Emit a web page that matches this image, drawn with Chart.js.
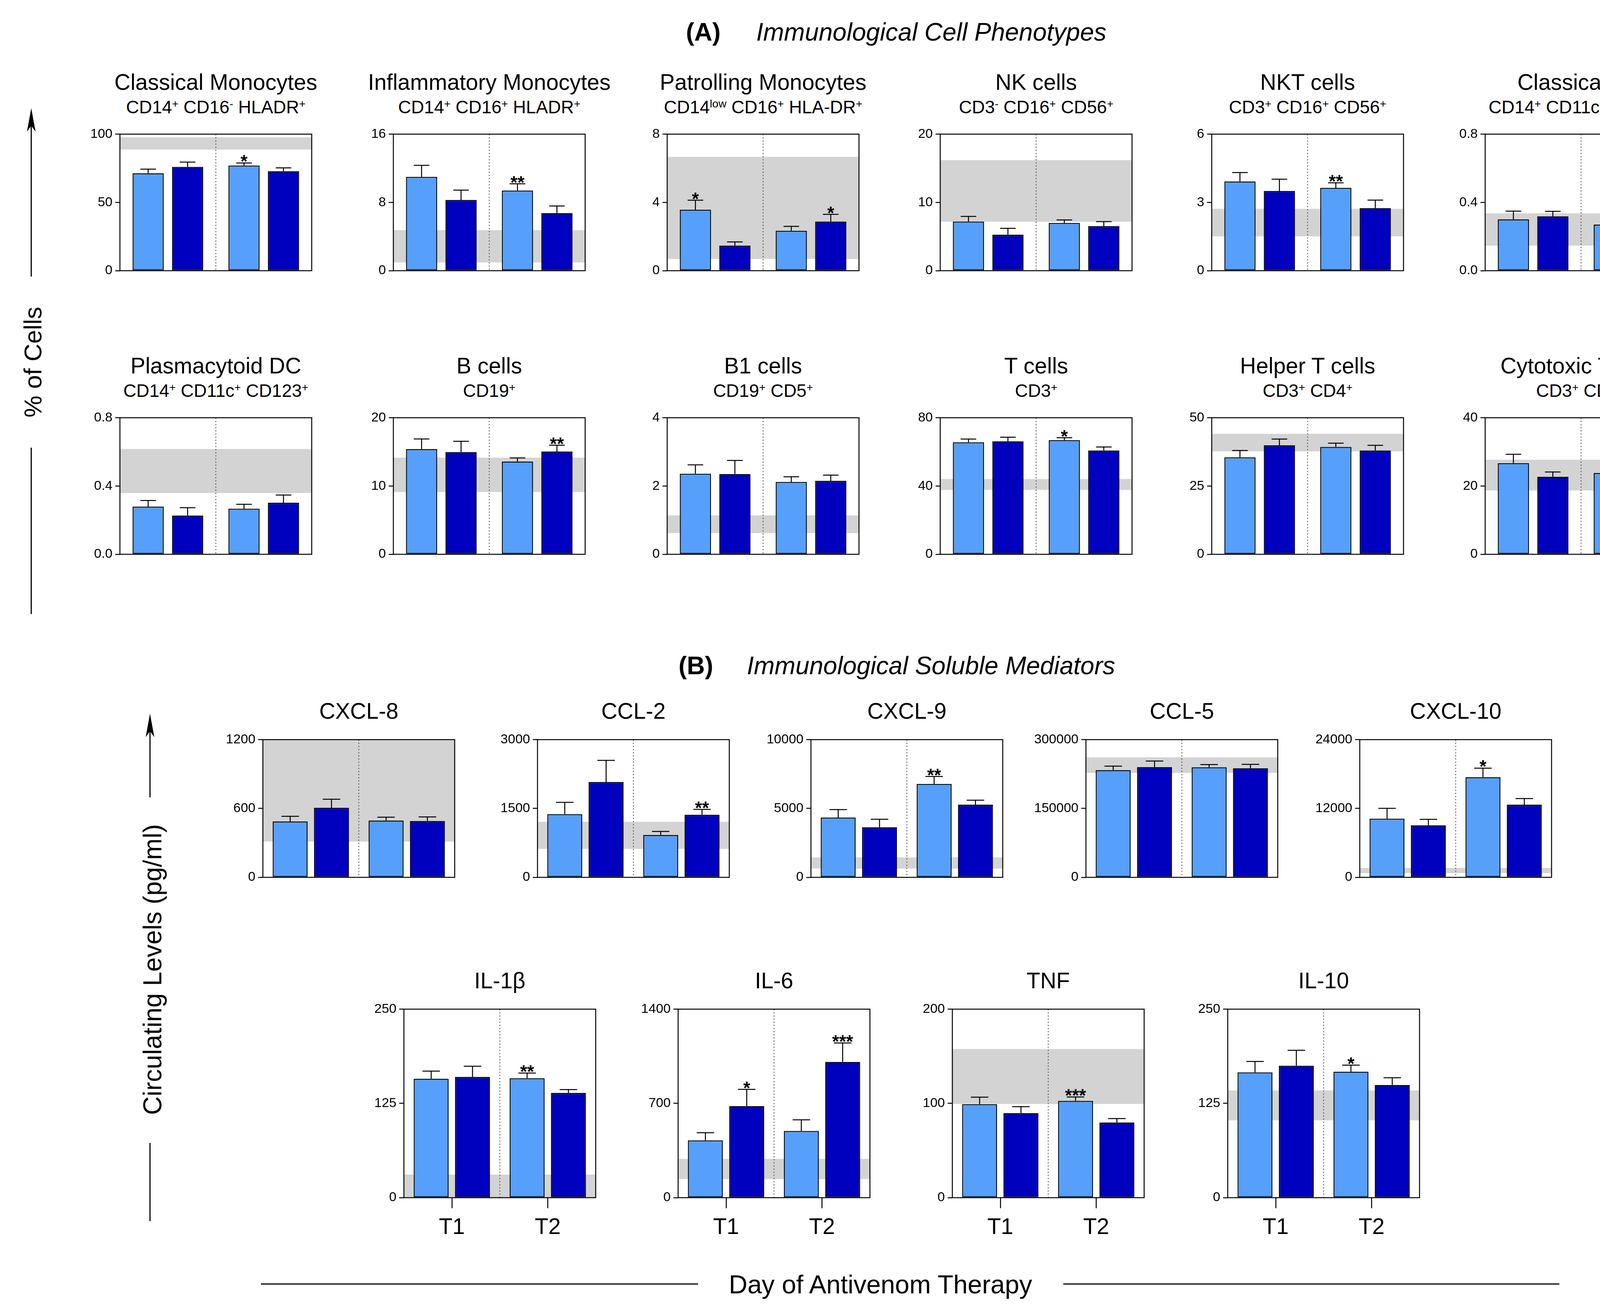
<!DOCTYPE html>
<html><head><meta charset="utf-8">
<script src="https://cdn.jsdelivr.net/npm/chart.js@4.4.1/dist/chart.umd.min.js"></script>
<style>
html,body{margin:0;padding:0;background:#fff;}
body{width:4341px;height:3351px;position:relative;overflow:hidden;font-family:"Liberation Sans",Arial,Helvetica,sans-serif;color:#000;}
.t{position:absolute;white-space:nowrap;line-height:1;}
sup{font-size:0.62em;vertical-align:0.52em;line-height:0;}
canvas{position:absolute;}
svg{position:absolute;left:0;top:0;}
</style></head><body>
<svg width="4341" height="3351" viewBox="0 0 4341 3351">
  <g stroke="#000" stroke-width="3" fill="none">
    <line x1="80" y1="300" x2="80" y2="708"/>
    <line x1="80" y1="1146" x2="80" y2="1572"/>
    <line x1="384" y1="1850" x2="384" y2="2041"/>
    <line x1="384" y1="2926" x2="384" y2="3126"/>
    <line x1="668" y1="3287" x2="1787" y2="3287"/>
    <line x1="2722" y1="3287" x2="3992" y2="3287"/>
  </g>
  <g fill="#000">
    <polygon points="80,277 69,337 80,322 91,337"/>
    <polygon points="384,1827 373,1887 384,1872 395,1887"/>
  </g>
</svg>
<script>
// ---------------- DATA ----------------
const categories = ['T1', 'T2'];
const panelTitles = [
  'Classical Monocytes', 'Inflammatory Monocytes', 'Patrolling Monocytes', 'NK cells', 'NKT cells', 'Classical DC',
  'Plasmacytoid DC', 'B cells', 'B1 cells', 'T cells', 'Helper T cells', 'Cytotoxic T cells',
  'CXCL-8', 'CCL-2', 'CXCL-9', 'CCL-5', 'CXCL-10',
  'IL-1β', 'IL-6', 'TNF', 'IL-10'
];
const panelMarkers = [
  'CD14<sup>+</sup> CD16<sup>-</sup> HLADR<sup>+</sup>',
  'CD14<sup>+</sup> CD16<sup>+</sup> HLADR<sup>+</sup>',
  'CD14<sup>low</sup> CD16<sup>+</sup> HLA-DR<sup>+</sup>',
  'CD3<sup>-</sup> CD16<sup>+</sup> CD56<sup>+</sup>',
  'CD3<sup>+</sup> CD16<sup>+</sup> CD56<sup>+</sup>',
  'CD14<sup>+</sup> CD11c<sup>+</sup> CD123<sup>+</sup>',
  'CD14<sup>+</sup> CD11c<sup>+</sup> CD123<sup>+</sup>',
  'CD19<sup>+</sup>',
  'CD19<sup>+</sup> CD5<sup>+</sup>',
  'CD3<sup>+</sup>',
  'CD3<sup>+</sup> CD4<sup>+</sup>',
  'CD3<sup>+</sup> CD8<sup>+</sup>',
  '', '', '', '', '', '', '', '', ''
];
const yTickLabels = [
  ['0','50','100'], ['0','8','16'], ['0','4','8'], ['0','10','20'], ['0','3','6'], ['0.0','0.4','0.8'],
  ['0.0','0.4','0.8'], ['0','10','20'], ['0','2','4'], ['0','40','80'], ['0','25','50'], ['0','20','40'],
  ['0','600','1200'], ['0','1500','3000'], ['0','5000','10000'], ['0','150000','300000'], ['0','12000','24000'],
  ['0','125','250'], ['0','700','1400'], ['0','100','200'], ['0','125','250']
];
const lightMean = [
  [71.4, 77.0], [11.0, 9.39], [3.57, 2.34], [7.20, 6.99], [3.92, 3.64], [0.301, 0.270],
  [0.279, 0.267], [15.42, 13.58], [2.36, 2.12], [65.6, 66.9], [35.5, 39.3], [26.7, 23.8],
  [487, 495], [1377, 923], [4338, 6778], [233600, 239800], [10220, 17460],
  [157.8, 158.4], [426, 495], [99.2, 102.7], [166.2, 167.1]
];
const lightSEM = [
  [3.0, 1.9], [1.34, 0.79], [0.56, 0.26], [0.75, 0.45], [0.39, 0.22], [0.048, 0.023],
  [0.036, 0.026], [1.47, 0.53], [0.26, 0.15], [1.9, 1.4], [2.5, 1.4], [2.6, 1.1],
  [45, 29], [257, 76], [585, 549], [8600, 5900], [1810, 1570],
  [10.1, 6.9], [56, 83], [7.4, 4.1], [14.4, 8.6]
];
const darkMean = [
  [76.0, 72.9], [8.28, 6.75], [1.47, 2.88], [5.28, 6.52], [3.50, 2.75], [0.318, 0.301],
  [0.227, 0.302], [14.97, 15.05], [2.35, 2.15], [66.2, 60.8], [39.9, 38.0], [22.7, 19.8],
  [606, 491], [2076, 1364], [3636, 5274], [240100, 237600], [9070, 12660],
  [160.1, 139.0], [680, 1008], [89.7, 79.8], [174.9, 149.4]
];
const darkSEM = [
  [3.5, 2.4], [1.16, 0.84], [0.22, 0.42], [0.93, 0.67], [0.52, 0.35], [0.030, 0.046],
  [0.046, 0.045], [1.58, 0.93], [0.40, 0.17], [2.4, 2.1], [2.3, 1.9], [1.4, 0.9],
  [75, 36], [473, 116], [585, 325], [13200, 8400], [1040, 1080],
  [14.2, 4.4], [124, 141], [6.9, 4.1], [20.5, 9.6]
];
const refLow  = [88.7, 0.97, 0.69, 7.17, 1.51, 0.147, 0.359, 9.12, 0.62, 37.7, 37.7, 18.7, 312, 621, 639, 227600, 734, 0, 138, 99.4, 102.6];
const refHigh = [97.7, 4.75, 6.67, 16.19, 2.72, 0.336, 0.617, 14.15, 1.14, 44.1, 44.1, 27.7, 1200, 1210, 1449, 261400, 1640, 30.6, 288, 157.7, 142.2];
const lightStars = [['','*'],['','**'],['*',''],['',''],['','**'],['',''],['',''],['',''],['',''],['','*'],['',''],['','**'],
  ['',''],['',''],['','**'],['',''],['','*'],['','**'],['',''],['','***'],['','*']];
const darkStars = [['',''],['',''],['','*'],['',''],['',''],['',''],['',''],['','**'],['',''],['',''],['',''],['',''],
  ['',''],['','**'],['',''],['',''],['',''],['',''],['*','***'],['',''],['','']];

// ---------------- LAYOUT ----------------
const FONT = '"Liberation Sans", Arial, Helvetica, sans-serif';
const LIGHT = '#56A0FB', DARK = '#0000BF', BAND = '#D3D3D3';
const PLOT_W = 491, AXIS_W = 170, PAD = 14, XAXIS_H = 130;
// [plotLeft, plotTop, group]
const panelLayout = [
  [307,330,'A'],[1007,330,'A'],[1708,330,'A'],[2407,330,'A'],[3102,330,'A'],[3802,330,'A'],
  [307,1056,'A'],[1007,1056,'A'],[1708,1056,'A'],[2407,1056,'A'],[3102,1056,'A'],[3802,1056,'A'],
  [673,1880,'B'],[1376,1880,'B'],[2076,1880,'B'],[2780,1880,'B'],[3481,1880,'B'],
  [1034,2570,'BX'],[1736,2570,'BX'],[2438,2570,'BX'],[3143,2570,'BX']
];

function addText(html, x, baseline, size, opts = {}) {
  const d = document.createElement('div');
  d.className = 't';
  d.innerHTML = html;
  d.style.fontSize = size + 'px';
  d.style.top = (baseline - 0.8465 * size) + 'px';
  d.style.left = x + 'px';
  if (opts.center) d.style.transform = 'translateX(-50%)';
  if (opts.bold) d.style.fontWeight = 'bold';
  if (opts.italic) d.style.fontStyle = 'italic';
  document.body.appendChild(d);
  return d;
}
function addRotated(text, cx, cy, size) {
  const d = document.createElement('div');
  d.className = 't';
  d.textContent = text;
  d.style.fontSize = size + 'px';
  d.style.left = cx + 'px';
  d.style.top = cy + 'px';
  d.style.transform = 'translate(-50%,-50%) rotate(-90deg)';
  document.body.appendChild(d);
}

// Section headings and axis titles
addText('(A)', 1756, 104, 64, {bold: true});
addText('Immunological Cell Phenotypes', 1936, 104, 64, {italic: true});
addText('(B)', 1737, 1726, 64, {bold: true});
addText('Immunological Soluble Mediators', 1912, 1726, 64, {italic: true});
addRotated('% of Cells', 84, 927, 63);
addRotated('Circulating Levels (pg/ml)', 390, 2482, 66);
addText('Day of Antivenom Therapy', 2254, 3311, 66, {center: true});

const decoPlugin = {
  id: 'panelDeco',
  beforeDatasetsDraw(chart, args, o) {
    const {ctx, chartArea: a, scales: {x, y}} = chart;
    ctx.save();
    ctx.fillStyle = BAND;
    const yHi = y.getPixelForValue(o.band[1]);
    const yLo = y.getPixelForValue(o.band[0]);
    ctx.fillRect(a.left, yHi, a.right - a.left, yLo - yHi);
    const xm = (x.getPixelForValue(0) + x.getPixelForValue(1)) / 2;
    ctx.strokeStyle = '#444';
    ctx.lineWidth = 2;
    ctx.setLineDash([3, 5]);
    ctx.beginPath();
    ctx.moveTo(xm, a.top);
    ctx.lineTo(xm, a.bottom);
    ctx.stroke();
    ctx.restore();
  },
  afterDatasetsDraw(chart) {
    const {ctx, chartArea: a, scales: {y}} = chart;
    ctx.save();
    ctx.strokeStyle = '#000';
    ctx.fillStyle = '#000';
    ctx.lineWidth = 2.5;
    chart.data.datasets.forEach((ds, di) => {
      const meta = chart.getDatasetMeta(di);
      meta.data.forEach((bar, i) => {
        const p = bar.getProps(['x', 'y', 'width'], true);
        const capY = y.getPixelForValue(ds.data[i] + ds.sem[i]);
        const hw = p.width * 0.25;
        ctx.beginPath();
        ctx.moveTo(p.x, p.y);
        ctx.lineTo(p.x, capY);
        ctx.moveTo(p.x - hw, capY);
        ctx.lineTo(p.x + hw, capY);
        ctx.stroke();
        const s = ds.stars[i];
        if (s) {
          ctx.font = 'bold 46px ' + FONT;
          ctx.textAlign = 'center';
          ctx.textBaseline = 'alphabetic';
          ctx.fillText(s, p.x, capY + 12);
        }
      });
    });
    ctx.lineWidth = 2.5;
    ctx.strokeRect(a.left, a.top, a.right - a.left, a.bottom - a.top);
    ctx.restore();
  }
};

panelLayout.forEach(([left, top, group], p) => {
  const isB = group !== 'A';
  const showX = group === 'BX';
  const plotH = isB ? 496 : 493;
  const cx = left + PLOT_W / 2;
  if (panelMarkers[p]) {
    addText(panelTitles[p], cx, top - 100, 57, {center: true});
    addText(panelMarkers[p], cx, top - 40, 46, {center: true});
  } else {
    addText(panelTitles[p], cx, top - 40, 57, {center: true});
  }
  const cv = document.createElement('canvas');
  const W = AXIS_W + PLOT_W + PAD;
  const H = PAD + plotH + (showX ? XAXIS_H : PAD);
  cv.width = W; cv.height = H;
  cv.style.width = W + 'px'; cv.style.height = H + 'px';
  cv.style.left = (left - AXIS_W) + 'px';
  cv.style.top = (top - PAD) + 'px';
  document.body.appendChild(cv);
  const labels = yTickLabels[p];
  const yMax = parseFloat(labels[labels.length - 1]);
  const cp = isB ? 0.862 : 0.823;
  const bp = isB ? 0.845 : 0.79;
  new Chart(cv, {
    type: 'bar',
    data: {
      labels: categories,
      datasets: [
        {data: lightMean[p], sem: lightSEM[p], stars: lightStars[p], backgroundColor: LIGHT,
         borderColor: '#000', borderWidth: 2.5, borderSkipped: false, barPercentage: bp, categoryPercentage: cp},
        {data: darkMean[p], sem: darkSEM[p], stars: darkStars[p], backgroundColor: DARK,
         borderColor: '#000', borderWidth: 2.5, borderSkipped: false, barPercentage: bp, categoryPercentage: cp}
      ]
    },
    options: {
      responsive: false,
      animation: false,
      devicePixelRatio: 1,
      layout: {padding: {left: 0, right: PAD, top: PAD, bottom: showX ? 0 : PAD}},
      plugins: {
        legend: {display: false},
        tooltip: {enabled: false},
        panelDeco: {band: [refLow[p], refHigh[p]]}
      },
      scales: {
        x: {
          display: showX,
          grid: {display: true, drawOnChartArea: false, drawTicks: true, tickLength: 27, color: '#000', lineWidth: 2.5, offset: false},
          border: {display: false},
          ticks: {font: {size: 57, family: FONT}, color: '#000', padding: 16},
          afterFit(s) { s.height = XAXIS_H; }
        },
        y: {
          min: 0, max: yMax,
          ticks: {
            stepSize: yMax / 2,
            callback: (v) => labels[Math.round(v / (yMax / 2))],
            font: {size: 34, family: FONT}, color: '#000', padding: 7
          },
          grid: {display: true, drawOnChartArea: false, drawTicks: true, tickLength: 12, color: '#000', lineWidth: 2.5},
          border: {display: false},
          afterFit(s) { s.width = AXIS_W; }
        }
      }
    },
    plugins: [decoPlugin]
  });
});
</script>
</body></html>
